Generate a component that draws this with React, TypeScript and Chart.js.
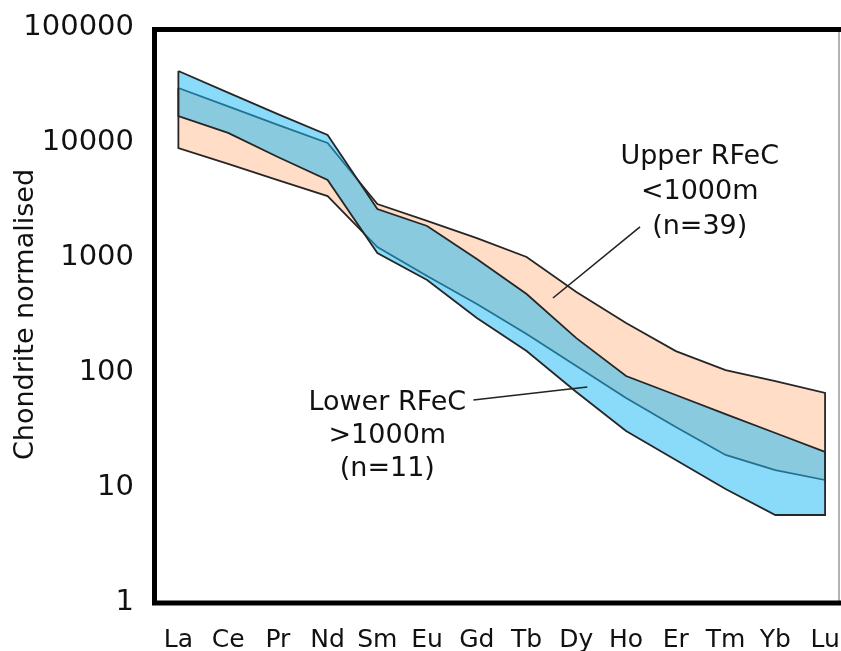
import React, { useEffect, useRef } from "react";
import { Chart, registerables } from "chart.js";

Chart.register(...registerables);

// REE categories (x axis)
const elements = ["La", "Ce", "Pr", "Nd", "Sm", "Eu", "Gd", "Tb", "Dy", "Ho", "Er", "Tm", "Yb", "Lu"];

// Upper RFeC <1000m (n=39) envelope
const upperMax = [29500, 20400, 14100, 9800, 2890, 2060, 1460, 1000, 496, 267, 152, 104, 83.5, 65.7];
const upperMin = [8870, 6440, 4670, 3390, 1220, 684, 390, 214, 113, 59.4, 33.2, 19.0, 14.05, 11.5];

// Lower RFeC >1000m (n=11) envelope
const lowerMax = [41400, 26900, 17500, 11500, 2615, 1860, 960, 477, 197, 92.3, 63.1, 43.1, 29.5, 20.2];
const lowerMin = [16800, 12000, 7400, 4670, 1083, 631, 295, 152, 67, 30.7, 17.2, 9.6, 5.71, 5.71];

// y tick labels
const yTicks = [1, 10, 100, 1000, 10000, 100000];

// annotations (text lines, anchor of middle line in data space, leader line ends in data space)
const upperText = ["Upper RFeC", "<1000m", "(n=39)"];
const upperAnchor = { x: 10.48, y: 3673 };
const upperLeader = [{ x: 9.28, y: 1824 }, { x: 7.53, y: 440 }];
const lowerText = ["Lower RFeC", ">1000m", "(n=11)"];
const lowerAnchor = { x: 4.2, y: 27.8 };
const lowerLeader = [{ x: 5.93, y: 57.1 }, { x: 8.22, y: 74.1 }];

const FONT = "'DejaVu Sans', Verdana, sans-serif";

function band(top: number[], bottom: number[]) {
  const pts: { x: number; y: number }[] = top.map((v, i) => ({ x: i, y: v }));
  for (let i = bottom.length - 1; i >= 0; i--) pts.push({ x: i, y: bottom[i] });
  pts.push({ x: 0, y: top[0] });
  return pts;
}

const framePlugin = {
  id: "frameAndNotes",
  afterDraw(chart: any) {
    const { ctx, chartArea: a, scales } = chart;
    const xs = scales.x;
    const ys = scales.y;
    ctx.save();
    // thin right border
    ctx.strokeStyle = "#9a9a9a";
    ctx.lineWidth = 1.5;
    ctx.beginPath();
    ctx.moveTo(a.right, a.top);
    ctx.lineTo(a.right, a.bottom);
    ctx.stroke();
    // thick frame left/top/bottom
    ctx.strokeStyle = "#000";
    ctx.lineWidth = 5;
    ctx.lineCap = "butt";
    ctx.beginPath();
    ctx.moveTo(chart.width, a.top + 2.5);
    ctx.lineTo(a.left - 0.5, a.top + 2.5);
    ctx.lineTo(a.left - 0.5, a.bottom + 1);
    ctx.lineTo(a.right + 2, a.bottom + 1);
    ctx.stroke();

    // leader lines
    ctx.strokeStyle = "#222";
    ctx.lineWidth = 1.6;
    for (const ld of [upperLeader, lowerLeader]) {
      ctx.beginPath();
      ctx.moveTo(xs.getPixelForValue(ld[0].x), ys.getPixelForValue(ld[0].y));
      ctx.lineTo(xs.getPixelForValue(ld[1].x), ys.getPixelForValue(ld[1].y));
      ctx.stroke();
    }
    // texts
    ctx.fillStyle = "#111";
    ctx.font = `27px ${FONT}`;
    ctx.textAlign = "center";
    ctx.textBaseline = "middle";
    const drawBlock = (lines: string[], anc: { x: number; y: number }, gap: number) => {
      const cx = xs.getPixelForValue(anc.x);
      const cy = ys.getPixelForValue(anc.y);
      lines.forEach((t, i) => ctx.fillText(t, cx, cy + (i - 1) * gap));
    };
    drawBlock(upperText, upperAnchor, 35);
    drawBlock(lowerText, lowerAnchor, 33);
    ctx.restore();
  },
};

const noPad = (s: any) => {
  s.paddingTop = 0;
  s.paddingBottom = 0;
  s.paddingLeft = 0;
  s.paddingRight = 0;
};

export default function App() {
  const ref = useRef<HTMLCanvasElement | null>(null);
  useEffect(() => {
    if (!ref.current) return;
    const chart = new Chart(ref.current, {
      type: "line",
      data: {
        datasets: [
          {
            label: "Lower RFeC >1000m (n=11)",
            data: band(lowerMax, lowerMin),
            order: 1,
            borderColor: "#262626",
            borderWidth: 1.8,
            backgroundColor: "rgba(30,185,245,0.52)",
            fill: "shape",
            pointRadius: 0,
            tension: 0,
          },
          {
            label: "Upper RFeC <1000m (n=39)",
            data: band(upperMax, upperMin),
            order: 2,
            borderColor: "#262626",
            borderWidth: 1.8,
            backgroundColor: "rgb(255,221,199)",
            fill: "shape",
            pointRadius: 0,
            tension: 0,
          },
        ],
      },
      options: {
        animation: false,
        responsive: false,
        devicePixelRatio: 1,
        parsing: false as any,
        layout: { padding: { top: 27, right: 2, left: 0, bottom: 0 } },
        plugins: {
          legend: { display: false },
          tooltip: { enabled: false },
        },
        scales: {
          x: {
            type: "linear",
            min: -0.47,
            max: 13.28,
            grid: { display: false, drawTicks: false, tickLength: 0 },
            border: { display: false },
            afterBuildTicks: (s: any) => {
              s.ticks = elements.map((_, i) => ({ value: i }));
            },
            afterFit: (s: any) => {
              s.height = 49;
              noPad(s);
            },
            ticks: {
              autoSkip: false,
              maxRotation: 0,
              padding: 23,
              color: "#111",
              font: { family: FONT, size: 25 },
              callback: (v: any) => elements[Math.round(Number(v))] ?? "",
            },
          },
          y: {
            type: "logarithmic",
            min: 1,
            max: 100000,
            grid: { display: false, drawTicks: false, tickLength: 0 },
            border: { display: false },
            afterBuildTicks: (s: any) => {
              s.ticks = yTicks.map((v) => ({ value: v }));
            },
            afterFit: (s: any) => {
              s.width = 155;
              noPad(s);
            },
            ticks: {
              padding: 21,
              color: "#111",
              font: { family: FONT, size: 29 },
              callback: (v: any) => String(v),
            },
            title: {
              display: true,
              text: "Chondrite normalised",
              color: "#111",
              font: { family: FONT, size: 27 },
              padding: { top: 10, bottom: 0 },
            },
          },
        },
      },
      plugins: [framePlugin],
    });
    return () => chart.destroy();
  }, []);
  return (
    <div style={{ position: "fixed", left: 0, top: 0, width: 841, height: 651, background: "#fff" }}>
      <canvas ref={ref} width={841} height={651} style={{ display: "block" }} />
    </div>
  );
}
